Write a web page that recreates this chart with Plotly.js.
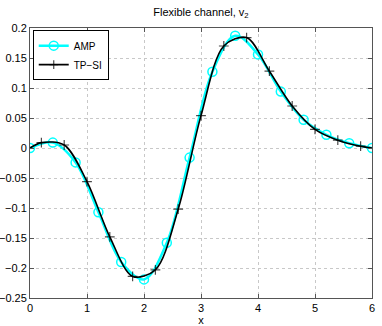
<!DOCTYPE html>
<html>
<head>
<meta charset="utf-8">
<script src="https://cdn.plot.ly/plotly-3.0.1.min.js"></script>
<style>html,body{margin:0;padding:0;background:#fff;}#chart{width:382px;height:326px;}</style>
</head>
<body>
<div id="chart"></div>
<script>
// Data
var ampX = [0, 0.4, 0.8, 1.2, 1.6, 2.0, 2.4, 2.8, 3.2, 3.6, 4.0, 4.4, 4.8, 5.2, 5.6, 6.0];
var ampY = [0, 0.009, -0.024, -0.107, -0.19, -0.219, -0.158, -0.016, 0.127, 0.187, 0.156, 0.094, 0.047, 0.022, 0.008, 0.0];

var tpX = [0, 0.2, 0.6, 1.0, 1.4, 1.8, 2.2, 2.6, 3.0, 3.4, 3.8, 4.2, 4.6, 5.0, 5.4, 5.8, 6.0];
var tpY = [0, 0.009, 0.005, -0.056, -0.148, -0.214, -0.203, -0.102, 0.054, 0.17, 0.184, 0.128, 0.07, 0.031, 0.013, 0.003, 0.0];
// endpoints carry the line only (no marker)
var tpMarkerSize = tpX.map(function (v, i) { return (i === 0 || i === tpX.length - 1) ? 0 : 7; });

var seriesNames = ['AMP', 'TP\u2212SI'];

var traces = [
  {
    x: ampX, y: ampY, name: seriesNames[0], type: 'scatter', mode: 'lines+markers',
    line: {color: '#00ffff', width: 2.5, shape: 'spline', smoothing: 1},
    marker: {symbol: 'circle-open', size: 9, color: '#00ffff', line: {width: 1.5, color: '#00ffff'}}
  },
  {
    x: tpX, y: tpY, name: seriesNames[1], type: 'scatter', mode: 'lines+markers',
    line: {color: '#000000', width: 1.6, shape: 'spline', smoothing: 0.9},
    marker: {symbol: 'cross-thin', size: tpMarkerSize, color: '#000000', line: {width: 1.2, color: '#000000'}}
  }
];

var axisCommon = {
  showgrid: true, gridcolor: '#c8c8c8', griddash: 'dot', gridwidth: 1,
  zeroline: false, showline: true, linecolor: '#555555', linewidth: 1, mirror: 'ticks',
  ticks: 'inside', ticklen: 4, tickcolor: '#555555',
  tickfont: {family: 'Liberation Sans, Arial, sans-serif', size: 11, color: '#000'}
};

var layout = {
  width: 382, height: 326,
  margin: {l: 30, r: 10, t: 28, b: 28},
  paper_bgcolor: '#ffffff', plot_bgcolor: '#ffffff',
  font: {family: 'Liberation Sans, Arial, sans-serif', size: 11, color: '#000'},
  title: {text: 'Flexible channel, v<sub>2</sub>', x: 0.526, xanchor: 'center', y: 0.975, yanchor: 'top',
          font: {family: 'Liberation Sans, Arial, sans-serif', size: 11, color: '#000'}},
  xaxis: Object.assign({}, axisCommon, {
    range: [0, 6], dtick: 1, tick0: 0,
    title: {text: 'x', standoff: 2, font: {family: 'Liberation Sans, Arial, sans-serif', size: 11, color: '#000'}}
  }),
  yaxis: Object.assign({}, axisCommon, {
    range: [-0.25, 0.2], dtick: 0.05, tick0: 0
  }),
  showlegend: true,
  legend: {x: 0.008, y: 0.992, xanchor: 'left', yanchor: 'top',
           bgcolor: '#ffffff', bordercolor: '#000000', borderwidth: 1,
           font: {family: 'Liberation Sans, Arial, sans-serif', size: 10, color: '#000'},
           tracegroupgap: 0, itemwidth: 30}
};

Plotly.newPlot('chart', traces, layout, {displayModeBar: false, staticPlot: true});
</script>
</body>
</html>
